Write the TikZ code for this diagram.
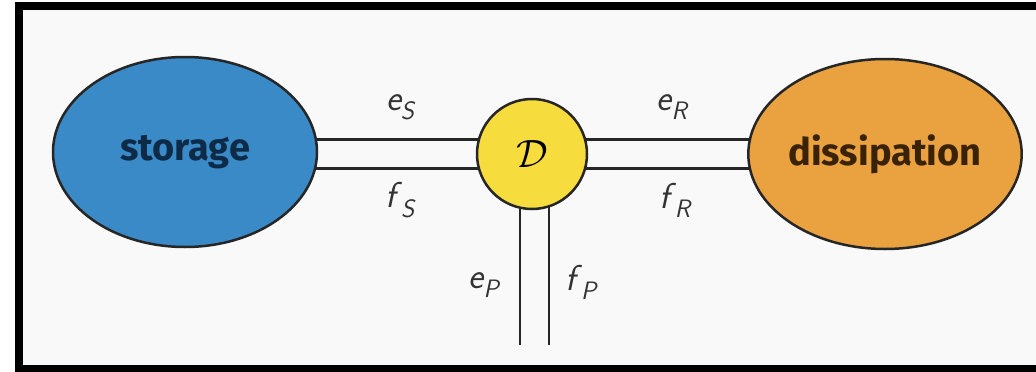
\documentclass[tikz,border=0pt]{standalone}
\usepackage{fontspec}
\newfontfamily\fira{Fira Sans}
\usetikzlibrary{shapes.geometric,backgrounds,calc}
\definecolor{bgc}{HTML}{F9F9F9}
\definecolor{stblue}{HTML}{3A8AC8}
\definecolor{stnavy}{HTML}{0D2B47}
\definecolor{dsorange}{HTML}{E9A23F}
\definecolor{dsbrown}{HTML}{3A2206}
\definecolor{dyellow}{HTML}{F6DC3C}
\newcommand\plbl[2]{\textit{#1}\kern-1.5pt\textsubscript{\textit{#2}}}
\begin{document}
\begin{tikzpicture}[x=1pt,y=-1pt,
  blob/.style={ellipse, draw=black!85, line width=2.5pt, inner sep=0pt,
    minimum width=264pt, minimum height=190pt,
    font=\fira\bfseries\fontsize{38}{42}\selectfont},
  junc/.style={circle, draw=black!85, line width=2.5pt, fill=dyellow,
    minimum size=110pt, inner sep=0pt},
  bond/.style={draw=black!85, line width=2.8pt},
  lbl/.style={font=\sffamily\fontsize{36}{40}\selectfont, inner sep=0pt, text=black!80}]
\useasboundingbox (0,0) rectangle (1036,372);

\node[blob, fill=stblue, text=stnavy] (storage) at (185,152) {storage};
\node[blob, fill=dsorange, text=dsbrown] (diss) at (885,154) {dissipation};
\node[junc] (D) at (532,154) {\scalebox{1.9}{\huge$\mathcal{D}$}};
\coordinate (P) at (534.5,345);
\coordinate (up) at ($(D.center)+(0,-14.5)$);
\coordinate (dn) at ($(D.center)+(0,14.5)$);
\coordinate (lf) at ($(D.center -| P)+(-14.5,0)$);
\coordinate (rt) at ($(D.center -| P)+(14.5,0)$);

\begin{scope}[on background layer]
\fill[white] (0,0) rectangle (1036,372);
\fill[black] (15,2) rectangle (1036,372);
\fill[bgc] (23,10) rectangle (1036,365);
\draw[bond] (storage.center |- up) -- (up);
\draw[bond] (storage.center |- dn) -- (dn);
\draw[bond] (up) -- (diss.center |- up);
\draw[bond] (dn) -- (diss.center |- dn);
\draw[bond] (lf) -- (lf |- P);
\draw[bond] (rt) -- (rt |- P);
\end{scope}

\node[lbl] (eS) at (401,107) {\plbl{e}{S}};
\node[lbl] (fS) at (401,200) {\plbl{f}{S}};
\node[lbl] (eR) at (673,107) {\plbl{e}{R}};
\node[lbl] (fR) at (676,200) {\plbl{f}{R}};
\node[lbl] (eP) at (485,285) {\plbl{e}{P}};
\node[lbl] (fP) at (582,282) {\plbl{f}{P}};
\end{tikzpicture}
\end{document}
